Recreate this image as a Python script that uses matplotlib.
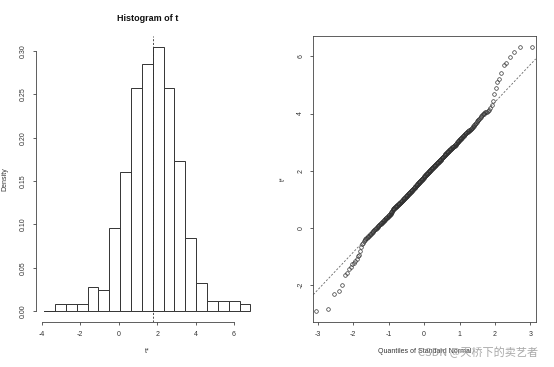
import numpy as np
import matplotlib
matplotlib.use('Agg')
import matplotlib.pyplot as plt
from statistics import NormalDist

plt.rcParams['font.family'] = ['Liberation Sans', 'DejaVu Sans']

t_star = [
    -2.91, -2.84,
    -2.30, -2.21,
    -1.98, -1.65,
    -1.58, -1.45, -1.36, -1.27, -1.22, -1.16, -1.10,
    -0.98, -0.95, -0.80, -0.66, -0.58, -0.52,
    -0.47, -0.43, -0.40, -0.37, -0.35, -0.32, -0.30, -0.27, -0.25, -0.22,
    -0.20, -0.18, -0.15, -0.13, -0.11, -0.09, -0.07, -0.05, -0.03, -0.02,
    0.00, 0.02, 0.04, 0.06,
    0.08, 0.10, 0.11, 0.13, 0.14, 0.15, 0.17, 0.18, 0.20, 0.21,
    0.22, 0.24, 0.25, 0.26, 0.28, 0.29, 0.30, 0.31, 0.33, 0.34,
    0.35, 0.36, 0.38, 0.39, 0.40, 0.41, 0.43, 0.44, 0.45, 0.46,
    0.48, 0.49, 0.50, 0.52, 0.53, 0.55, 0.56, 0.58, 0.60, 0.62,
    0.65, 0.66, 0.67, 0.68, 0.69, 0.70, 0.71, 0.72, 0.72, 0.73,
    0.74, 0.75, 0.76, 0.77, 0.78, 0.79, 0.80, 0.80, 0.81, 0.82,
    0.83, 0.84, 0.85, 0.86, 0.86, 0.87, 0.88, 0.89, 0.90, 0.91,
    0.92, 0.92, 0.93, 0.94, 0.95, 0.96, 0.97, 0.98, 0.98, 0.99,
    1.00, 1.01, 1.02, 1.03, 1.04, 1.05, 1.05, 1.06, 1.07, 1.08,
    1.09, 1.10, 1.11, 1.12, 1.12, 1.13, 1.14, 1.15, 1.16, 1.17,
    1.18, 1.19, 1.19, 1.20,
    1.21, 1.22, 1.22, 1.23, 1.24, 1.25, 1.26, 1.26, 1.27, 1.28,
    1.29, 1.30, 1.30, 1.31, 1.32, 1.33, 1.34, 1.34, 1.35, 1.36,
    1.37, 1.37, 1.38, 1.39, 1.40, 1.41, 1.41, 1.42, 1.43, 1.44,
    1.45, 1.45, 1.46, 1.47, 1.48, 1.48, 1.49, 1.50, 1.51, 1.52,
    1.52, 1.53, 1.54, 1.55, 1.56, 1.56, 1.57, 1.58, 1.59, 1.60,
    1.60, 1.61, 1.62, 1.63, 1.64, 1.64, 1.65, 1.66, 1.67, 1.68,
    1.68, 1.69, 1.70, 1.71, 1.72, 1.72, 1.73, 1.74, 1.75, 1.75,
    1.76,
    1.78, 1.78, 1.79, 1.80, 1.81, 1.81, 1.82, 1.83, 1.84, 1.84,
    1.85, 1.86, 1.87, 1.87, 1.88, 1.89, 1.90, 1.90, 1.91, 1.92,
    1.93, 1.93, 1.94, 1.95, 1.96, 1.96, 1.97, 1.98, 1.99, 1.99,
    2.00, 2.01, 2.02, 2.02, 2.03, 2.04, 2.05, 2.05, 2.06, 2.07,
    2.08, 2.08, 2.09, 2.10, 2.11, 2.11, 2.12, 2.13, 2.14, 2.14,
    2.15, 2.16, 2.17, 2.17, 2.18, 2.19, 2.20, 2.20, 2.21, 2.22,
    2.23, 2.23, 2.24, 2.25, 2.26, 2.26, 2.27, 2.28, 2.29, 2.29,
    2.30, 2.31, 2.31, 2.32, 2.33, 2.33,
    2.34, 2.35, 2.36, 2.37, 2.38, 2.39, 2.39, 2.40, 2.41, 2.42,
    2.43, 2.44, 2.45, 2.46, 2.47, 2.48, 2.48, 2.49, 2.50, 2.51,
    2.52, 2.53, 2.54, 2.55, 2.56, 2.57, 2.57, 2.58, 2.59, 2.60,
    2.61, 2.62, 2.63, 2.64, 2.65, 2.66, 2.66, 2.67, 2.68, 2.69,
    2.70, 2.71, 2.72, 2.73, 2.74, 2.75, 2.75, 2.76, 2.77, 2.78,
    2.79, 2.80, 2.81, 2.82, 2.83, 2.84, 2.84, 2.85, 2.86, 2.87,
    2.88, 2.88, 2.89, 2.89,
    2.91, 2.92, 2.94, 2.95, 2.96, 2.98, 2.99, 3.00, 3.02, 3.03,
    3.04, 3.06, 3.07, 3.08, 3.10, 3.11, 3.12, 3.14, 3.15, 3.16,
    3.18, 3.19, 3.20, 3.22, 3.23, 3.24, 3.26, 3.27, 3.28, 3.30,
    3.31, 3.32, 3.34, 3.35, 3.36, 3.38, 3.39, 3.40, 3.42, 3.43,
    3.44, 3.45, 3.46,
    3.48, 3.50, 3.53, 3.55, 3.58, 3.60, 3.63, 3.65, 3.68, 3.70,
    3.73, 3.76, 3.79, 3.82, 3.85, 3.88, 3.91, 3.94, 3.97, 3.99,
    4.01,
    4.04, 4.05, 4.06, 4.08, 4.12, 4.20, 4.28, 4.45,
    4.67, 4.90, 5.10,
    5.20, 5.43, 5.70,
    5.78, 5.98, 6.15,
    6.33, 6.34,
]
t0 = 1.76  # observed statistic (dashed line)

hist_start, hist_end, n_bins = -3.88, 6.855, 19
hist_xticks = [-4, -2, 0, 2, 4, 6]
hist_yticks = [0.00, 0.05, 0.10, 0.15, 0.20, 0.25, 0.30]
qq_xticks = [-3, -2, -1, 0, 1, 2, 3]
qq_yticks = [-2, 0, 2, 4, 6]

ink = '#333333'
fs = 5

fig = plt.figure(figsize=(5.54, 3.67), dpi=100)
ax1 = fig.add_axes([0.065, 0.1234, 0.4018, 0.7785])
ax2 = fig.add_axes([0.5655, 0.1234, 0.4014, 0.7785])

# ---- histogram ----
breaks = np.linspace(hist_start, hist_end, n_bins + 1)
dens, _, _ = ax1.hist(t_star, bins=breaks, density=True, facecolor='white',
                      edgecolor=ink, linewidth=0.7)
# first (empty) bin still drawn as a flat line, like R
ax1.plot([breaks[0], breaks[1]], [0, 0], color=ink, lw=0.7)
ax1.axvline(t0, color=ink, lw=0.6, dashes=(2.5, 2))

span = breaks[-1] - breaks[0]
ax1.set_xlim(breaks[0] - 0.04 * span, breaks[-1] + 0.04 * span)
top = dens.max()
ax1.set_ylim(-0.04 * top, 1.04 * top)
for s in ['top', 'right']:
    ax1.spines[s].set_visible(False)
ax1.spines['left'].set_bounds(hist_yticks[0], hist_yticks[-1])
ax1.spines['bottom'].set_bounds(hist_xticks[0], hist_xticks[-1])
ax1.set_xticks(hist_xticks)
ax1.set_xticklabels([str(v) for v in hist_xticks])
ax1.set_yticks(hist_yticks)
ax1.set_yticklabels(['%.2f' % v for v in hist_yticks], rotation=90, va='center')
ax1.text(0.5, 1.063, 'Histogram of t', transform=ax1.transAxes, ha='center',
         va='center', fontsize=6.5, fontweight='bold', color='#111111')
ax1.text(-0.139, 0.5, 'Density', transform=ax1.transAxes, rotation=90,
         ha='center', va='center', fontsize=fs, color=ink)
ax1.text(0.5, -0.106, 't*', transform=ax1.transAxes, ha='center',
         va='center', fontsize=fs, color=ink)

# ---- normal QQ plot ----
n = len(t_star)
y_sorted = np.sort(t_star)
theo = np.array([NormalDist().inv_cdf((i - 0.5) / n) for i in range(1, n + 1)])
ax2.plot(theo, y_sorted, 'o', mfc='none', mec=ink, ms=2.6, mew=0.5)

q1, q3 = np.percentile(y_sorted, [25, 75])
z1, z3 = NormalDist().inv_cdf(0.25), NormalDist().inv_cdf(0.75)
slope = (q3 - q1) / (z3 - z1)
icpt = q1 - slope * z1
ax2.axline((0, icpt), slope=slope, color='#666666', lw=0.6, dashes=(2.5, 2))

ax2.set_xlim(-3.13, 3.15)
yr = y_sorted[-1] - y_sorted[0]
ax2.set_ylim(y_sorted[0] - 0.04 * yr, y_sorted[-1] + 0.04 * yr)
ax2.set_xticks(qq_xticks)
ax2.set_xticklabels([str(v) for v in qq_xticks])
ax2.set_yticks(qq_yticks)
ax2.set_yticklabels([str(v) for v in qq_yticks], rotation=90, va='center')
ax2.text(-0.136, 0.5, 't*', transform=ax2.transAxes, rotation=90,
         ha='center', va='center', fontsize=fs, color=ink)
ax2.text(0.5, -0.106, 'Quantiles of Standard Normal', transform=ax2.transAxes,
         ha='center', va='center', fontsize=fs, color=ink)

for ax in (ax1, ax2):
    for s in ax.spines.values():
        s.set_linewidth(0.6)
        s.set_color('#444444')
    ax.tick_params(length=2.5, width=0.6, color='#444444', labelsize=fs,
                   labelcolor=ink, pad=4)

# watermark
fig.text(538 / 554, 1 - 352 / 367, 'CSDN @天桥下的卖艺者', ha='right', va='center',
         fontsize=8, color='#999999', alpha=0.85,
         family=['Noto Sans CJK SC', 'DejaVu Sans'])

fig.savefig('out.png', dpi=100)
